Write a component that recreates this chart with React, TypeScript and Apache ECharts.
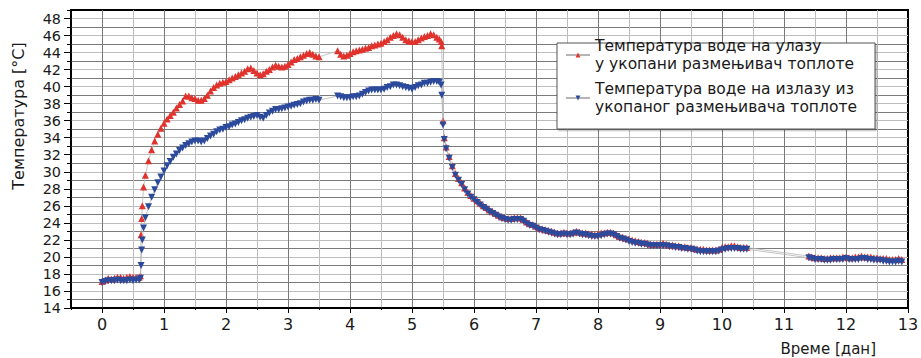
import React, { useEffect, useRef } from 'react';
import * as echarts from 'echarts';

// Time in days
const days = [
  0, 0.05, 0.1, 0.15, 0.2, 0.25, 0.3, 0.35, 0.4, 0.45, 0.5, 0.55, 0.6,
  0.62, 0.63, 0.64, 0.65, 0.67, 0.7, 0.75, 0.8, 0.85, 0.9, 0.95,
  1.0, 1.05, 1.1, 1.15, 1.2, 1.25, 1.3, 1.35, 1.4, 1.45, 1.5, 1.55, 1.6, 1.65, 1.7, 1.75, 1.8, 1.85, 1.9, 1.95,
  2.0, 2.05, 2.1, 2.15, 2.2, 2.25, 2.3, 2.35, 2.4, 2.45, 2.5, 2.55, 2.6, 2.65, 2.7, 2.75, 2.8, 2.85, 2.9, 2.95,
  3.0, 3.05, 3.1, 3.15, 3.2, 3.25, 3.3, 3.35, 3.4, 3.45, 3.5,
  3.8, 3.85, 3.9, 3.95,
  4.0, 4.05, 4.1, 4.15, 4.2, 4.25, 4.3, 4.35, 4.4, 4.45, 4.5, 4.55, 4.6, 4.65, 4.7, 4.75, 4.8, 4.85, 4.9, 4.95,
  5.0, 5.05, 5.1, 5.15, 5.2, 5.25, 5.3, 5.35, 5.4,
  5.44, 5.47, 5.48, 5.5, 5.52, 5.55, 5.6, 5.65, 5.7, 5.75,
  5.8, 5.85, 5.9, 5.95,
  6.0, 6.05, 6.1, 6.15, 6.2, 6.25, 6.3, 6.35, 6.4, 6.45, 6.5, 6.55, 6.6, 6.65, 6.7, 6.75, 6.8, 6.85, 6.9, 6.95,
  7.0, 7.05, 7.1, 7.15, 7.2, 7.25, 7.3, 7.35, 7.4, 7.45, 7.5, 7.55, 7.6, 7.65, 7.7, 7.75, 7.8, 7.85, 7.9, 7.95,
  8.0, 8.05, 8.1, 8.15, 8.2, 8.25, 8.3, 8.35, 8.4, 8.45, 8.5, 8.55, 8.6, 8.65, 8.7, 8.75, 8.8, 8.85, 8.9, 8.95,
  9.0, 9.05, 9.1, 9.15, 9.2, 9.25, 9.3, 9.35, 9.4, 9.45, 9.5, 9.55, 9.6, 9.65, 9.7, 9.75, 9.8, 9.85, 9.9, 9.95,
  10.0, 10.05, 10.1, 10.15, 10.2, 10.25, 10.3, 10.35, 10.4,
  11.4, 11.45, 11.5, 11.55, 11.6, 11.65, 11.7, 11.75, 11.8, 11.85, 11.9, 11.95,
  12.0, 12.05, 12.1, 12.15, 12.2, 12.25, 12.3, 12.35, 12.4, 12.45, 12.5, 12.55, 12.6, 12.65, 12.7, 12.75, 12.8, 12.85, 12.9,
];

// Inlet water temperature [°C]
const inletTemp = [
  17.1, 17.3, 17.5, 17.4, 17.5, 17.6, 17.6, 17.5, 17.6, 17.7, 17.6, 17.6, 17.6,
  17.8, 22.6, 24.5, 26.0, 28.2, 29.6, 31.3, 32.6, 33.6, 34.4, 35.1,
  35.7, 36.2, 36.6, 37.0, 37.5, 37.9, 38.3, 38.9, 38.9, 38.7, 38.6, 38.4, 38.4, 38.6, 39.0, 39.5, 39.9, 40.2, 40.4, 40.5,
  40.6, 40.8, 41.0, 41.2, 41.4, 41.6, 41.8, 42.1, 42.2, 41.9, 41.6, 41.4, 41.5, 41.8, 42.0, 42.3, 42.5, 42.4, 42.3, 42.4,
  42.6, 42.9, 43.2, 43.3, 43.5, 43.7, 43.9, 44.0, 43.8, 43.6, 43.5,
  44.2, 43.8, 43.6, 43.7,
  43.9, 44.1, 44.2, 44.3, 44.4, 44.5, 44.6, 44.8, 44.9, 45.0, 45.1, 45.3, 45.5, 45.8, 46.0, 46.2, 46.1, 45.8, 45.5, 45.4,
  45.3, 45.3, 45.5, 45.7, 45.9, 46.0, 46.2, 46.1, 45.8,
  45.6, 45.3, 44.8, 36.0, 34.0, 32.9, 31.8, 30.7, 29.8, 29.2,
  28.7, 28.1, 27.6, 27.2,
  26.9, 26.6, 26.3, 26.0, 25.8, 25.5, 25.3, 25.1, 24.9, 24.7, 24.6, 24.5, 24.5, 24.6, 24.6, 24.6, 24.4, 24.1, 23.9, 23.8,
  23.6, 23.4, 23.3, 23.2, 23.1, 23.0, 22.9, 22.8, 22.8, 22.9, 22.8, 22.8, 22.9, 23.0, 22.9, 22.8, 22.8, 22.7, 22.7, 22.6,
  22.7, 22.8, 22.8, 22.9, 22.9, 22.8, 22.6, 22.4, 22.3, 22.2, 22.1, 22.0, 21.9, 21.8, 21.7, 21.7, 21.6, 21.5, 21.5, 21.5,
  21.5, 21.6, 21.5, 21.4, 21.4, 21.3, 21.3, 21.2, 21.2, 21.1, 21.1, 21.0, 20.9, 20.9, 20.9, 20.8, 20.8, 20.8, 20.8, 20.9,
  21.1, 21.2, 21.2, 21.3, 21.3, 21.2, 21.1, 21.1, 21.1,
  20.1, 20.0, 19.9, 19.9, 19.9, 19.8, 19.8, 19.9, 19.9, 19.9, 19.9, 20.0,
  20.0, 19.9, 19.9, 20.0, 20.0, 20.1, 20.0, 20.0, 20.0, 19.9, 19.9, 19.8, 19.8, 19.8, 19.7, 19.7, 19.7, 19.8, 19.7,
];

// Outlet water temperature [°C]
const outletTemp = [
  17.0, 17.1, 17.2, 17.2, 17.2, 17.3, 17.2, 17.2, 17.2, 17.3, 17.2, 17.3, 17.3,
  17.5, 19.0, 20.8, 22.0, 23.4, 24.6, 25.9, 27.0, 27.9, 28.7, 29.4,
  30.1, 30.7, 31.2, 31.7, 32.1, 32.5, 32.8, 33.1, 33.3, 33.5, 33.6, 33.6, 33.5, 33.6, 33.9, 34.2, 34.4, 34.7, 34.9, 35.0,
  35.2, 35.3, 35.5, 35.6, 35.8, 36.0, 36.1, 36.3, 36.4, 36.5, 36.6, 36.4, 36.3, 36.6, 36.9, 37.1, 37.3, 37.3, 37.4, 37.5,
  37.6, 37.7, 37.8, 37.9, 38.0, 38.2, 38.3, 38.4, 38.4, 38.5, 38.4,
  38.9, 38.8, 38.7, 38.7,
  38.7, 38.8, 38.8, 38.9, 39.1, 39.3, 39.5, 39.6, 39.6, 39.6, 39.6, 39.7, 39.9, 40.0, 40.2, 40.2, 40.1, 40.0, 39.9, 39.8,
  39.7, 39.9, 40.1, 40.2, 40.4, 40.4, 40.5, 40.6, 40.6,
  40.5, 40.2, 39.0, 35.5, 33.8, 32.7, 31.6, 30.5, 29.6, 29.0,
  28.5, 27.9, 27.4, 27.0,
  26.7, 26.4, 26.1, 25.8, 25.6, 25.3, 25.1, 24.9, 24.7, 24.5, 24.4, 24.3, 24.3, 24.4, 24.4, 24.4, 24.2, 23.9, 23.7, 23.6,
  23.4, 23.2, 23.1, 23.0, 22.9, 22.8, 22.7, 22.6, 22.6, 22.7, 22.6, 22.6, 22.7, 22.8, 22.7, 22.6, 22.6, 22.5, 22.4, 22.4,
  22.4, 22.5, 22.6, 22.7, 22.7, 22.6, 22.4, 22.2, 22.1, 22.0, 21.8, 21.7, 21.6, 21.6, 21.5, 21.5, 21.4, 21.3, 21.3, 21.3,
  21.3, 21.3, 21.3, 21.2, 21.2, 21.1, 21.1, 21.0, 21.0, 20.9, 20.9, 20.8, 20.7, 20.6, 20.6, 20.6, 20.6, 20.6, 20.6, 20.7,
  20.8, 20.9, 21.0, 21.0, 21.0, 21.0, 20.9, 20.9, 20.9,
  19.9, 19.8, 19.7, 19.7, 19.7, 19.6, 19.6, 19.6, 19.7, 19.7, 19.7, 19.7,
  19.8, 19.7, 19.7, 19.7, 19.7, 19.8, 19.8, 19.7, 19.7, 19.6, 19.6, 19.6, 19.5, 19.5, 19.4, 19.4, 19.4, 19.5, 19.4,
];

const inletName = 'Температура воде на улазу\nу укопани размењивач топлоте';
const outletName = 'Температура воде на излазу из\nукопаног размењивача топлоте';
const yTitle = 'Температура [°C]';
const xTitle = 'Време [дан]';

// Axis tick positions (half-day steps on x, one degree on y)
const xSteps = Array.from({ length: 28 }, (_, i) => String(-0.5 + i * 0.5));
const ySteps = Array.from({ length: 36 }, (_, i) => String(14 + i));

export default function App() {
  const ref = useRef<HTMLDivElement>(null);
  useEffect(() => {
    if (!ref.current) return;
    const chart = echarts.init(ref.current, null, { renderer: 'svg' });
    const font = 'DejaVu Sans';
    const dark = '#7a7a7a';
    const light = '#bdbdbd';
    const txt = '#1a1a1a';
    const inletData = days.map((d, i) => [d, inletTemp[i]]);
    const outletData = days.map((d, i) => [d, outletTemp[i]]);
    chart.setOption({
      animation: false,
      backgroundColor: '#ffffff',
      grid: {
        left: 71, right: 13, top: 10, bottom: 50,
        show: true, borderColor: '#000', borderWidth: 2, backgroundColor: 'transparent',
        outerBoundsMode: 'none',
      },
      xAxis: [
        {
          type: 'value', min: -0.5, max: 13, interval: 0.5,
          axisLine: { show: true, onZero: false, lineStyle: { color: '#000', width: 1.5 } },
          axisTick: { show: true, length: 2, lineStyle: { color: '#000' } },
          axisLabel: { show: false },
          splitLine: { show: true, showMinLine: false, showMaxLine: false, lineStyle: { color: [dark, light], width: 1 } },
        },
        {
          type: 'category', data: xSteps, boundaryGap: false, position: 'bottom',
          axisLine: { show: false, onZero: false },
          axisLabel: {
            show: true, interval: (i: number) => i % 2 === 1,
            fontFamily: font, fontSize: 16, lineHeight: 14, color: txt, margin: 9,
          },
          splitLine: { show: false },
          axisTick: { show: true, length: 5, interval: (i: number) => i % 2 === 1, lineStyle: { color: '#000' } },
        },
      ],
      yAxis: [
        {
          type: 'value', min: 14, max: 49, interval: 1,
          axisLine: { show: true, onZero: false, lineStyle: { color: '#000', width: 1.5 } },
          axisTick: { show: true, length: 4, lineStyle: { color: '#000' } },
          axisLabel: { show: false },
          splitLine: { show: true, showMinLine: false, showMaxLine: false, lineStyle: { color: [dark, light], width: 1 } },
        },
        {
          type: 'category', data: ySteps, boundaryGap: false, position: 'left',
          axisLine: { show: false, onZero: false },
          axisLabel: {
            show: true, interval: (i: number) => i % 2 === 0 && i < 35,
            fontFamily: font, fontSize: 14.4, lineHeight: 13, color: txt, margin: 10,
          },
          splitLine: { show: false },
          axisTick: { show: true, length: 7, interval: (i: number) => i % 2 === 0 && i < 35, lineStyle: { color: '#000' } },
        },
      ],
      legend: {
        orient: 'vertical', left: 565, top: 28, padding: 0,
        itemWidth: 24, itemHeight: 6, itemGap: -11, z: 4,
        selectedMode: false,
        textStyle: { fontFamily: font, fontSize: 15.5, color: txt, lineHeight: 18, padding: [18, 0, 0, 0] },
        data: [inletName, outletName],
      },
      graphic: [
        {
          type: 'rect', z: 3,
          shape: { x: 557, y: 43, width: 318, height: 86 },
          style: { fill: '#fff', stroke: '#555', lineWidth: 1, shadowColor: 'rgba(0,0,0,0.25)', shadowOffsetX: 1.5, shadowOffsetY: 1.5, shadowBlur: 0 },
        },
        {
          type: 'text', x: 18, y: 116, rotation: Math.PI / 2, z: 3,
          style: { text: yTitle, fontFamily: font, fontSize: 16, fill: txt, align: 'center', verticalAlign: 'middle' },
        },
        {
          type: 'text', x: 876, y: 349, z: 3,
          style: { text: xTitle, fontFamily: font, fontSize: 15, fill: txt, align: 'right', verticalAlign: 'middle' },
        },
      ],
      series: [
        {
          type: 'line', name: inletName, data: inletData, xAxisIndex: 0, yAxisIndex: 0,
          symbol: 'triangle', symbolSize: 7, showAllSymbol: true,
          itemStyle: { color: '#e0332d' },
          lineStyle: { color: '#b5b5b5', width: 0.8 },
          z: 2,
        },
        {
          type: 'line', name: outletName, data: outletData, xAxisIndex: 0, yAxisIndex: 0,
          symbol: 'path://M0,0L10,0L5,10Z', symbolSize: 7, showAllSymbol: true,
          itemStyle: { color: '#2c4a9c' },
          lineStyle: { color: '#b5b5b5', width: 0.8 },
          z: 3,
        },
      ],
    });
    return () => chart.dispose();
  }, []);
  return <div ref={ref} style={{ position: 'fixed', left: 0, top: 0, width: 921, height: 358, background: '#fff' }} />;
}
